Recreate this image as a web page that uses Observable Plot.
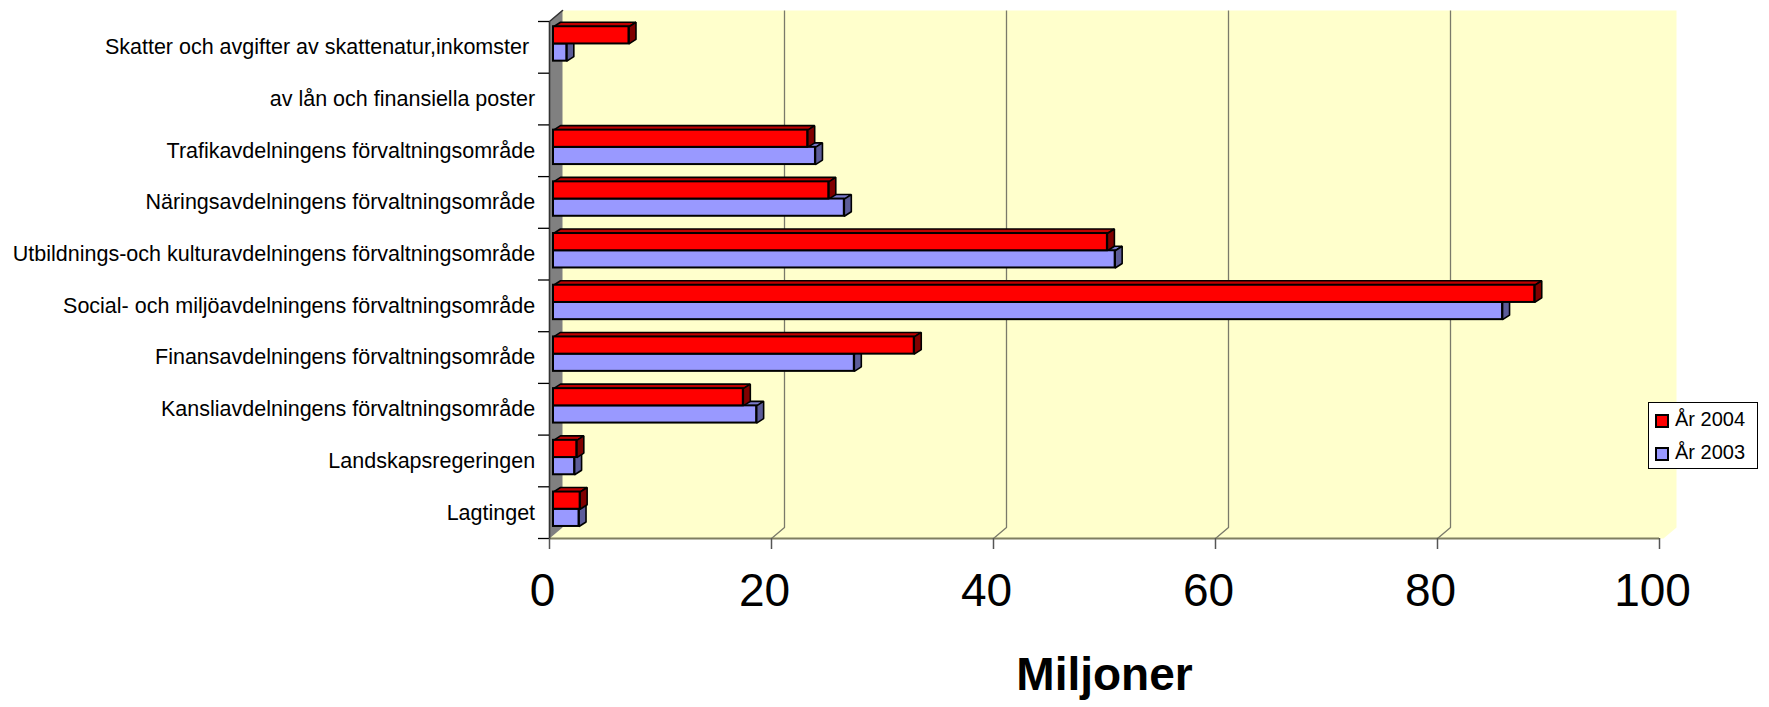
<!DOCTYPE html>
<html>
<head>
<meta charset="utf-8">
<script src="https://cdn.jsdelivr.net/npm/d3@7"></script>
<script src="https://cdn.jsdelivr.net/npm/@observablehq/plot@0.6"></script>
<style>
  html, body { margin: 0; padding: 0; background: #fff; }
  #wrap { position: relative; width: 1769px; height: 707px; font-family: "Liberation Sans", Arial, sans-serif; }
  .cat text { white-space: pre; }
  #legend { position: absolute; left: 1648px; top: 402px; width: 110px; height: 67px; border: 1px solid #000; background: #fff; box-sizing: border-box; }
  #legend .item { position: absolute; left: 6px; height: 20px; font-size: 20px; line-height: 20px; color: #000; white-space: nowrap; }
  #legend .sw { position: absolute; left: 0; top: 3px; width: 10px; height: 10px; border: 2px solid #000; }
  #legend .lbl { position: absolute; left: 20px; top: -2px; }
</style>
</head>
<body>
<div id="wrap"></div>
<script>
// ---- data ----
const categories = [
  "Skatter och avgifter av skattenatur,inkomster ",
  "av lån och finansiella poster",
  "Trafikavdelningens förvaltningsområde",
  "Näringsavdelningens förvaltningsområde",
  "Utbildnings-och kulturavdelningens förvaltningsområde",
  "Social- och miljöavdelningens förvaltningsområde",
  "Finansavdelningens förvaltningsområde",
  "Kansliavdelningens förvaltningsområde",
  "Landskapsregeringen",
  "Lagtinget"
];
const values2004 = [6.8, null, 22.9, 24.8, 49.9, 88.4, 32.5, 17.1, 2.1, 2.4];
const values2003 = [1.2, null, 23.6, 26.2, 50.6, 85.5, 27.1, 18.3, 1.9, 2.3];
const seriesNames = ["År 2004", "År 2003"];
const xTicks = [0, 20, 40, 60, 80, 100];
const axisTitle = "Miljoner";

// ---- layout ----
const W = 1769, H = 707;
const X0 = 549, X1 = 1659, Y0 = 21, Y1 = 538;
const XPX = (X1 - X0) / 100, YPX = (Y1 - Y0) / categories.length;
const wx = 13 / XPX, wy = 11 / YPX;      // wall depth in data units
const wr = 17 / XPX;                     // back wall right edge offset
const bx = 7 / XPX, by = 4.5 / YPX;      // bar depth in data units
const colors = {
  "År 2004": {front: "#ff0000", top: "#c00000", side: "#800000"},
  "År 2003": {front: "#9999ff", top: "#7a7acc", side: "#5c5c99"}
};
const slots = {"År 2004": [0.167, 0.5], "År 2003": [0.5, 0.833]};

// bar table
const bars = [];
categories.forEach((c, i) => {
  [["År 2003", values2003[i]], ["År 2004", values2004[i]]].forEach(([s, v]) => {
    if (v == null) return;
    bars.push({cat: c, i, series: s, value: v, y1: i + slots[s][0], y2: i + slots[s][1]});
  });
});

// side faces as polygons built from the bars
function facePolys(kind, series) {
  const pts = [];
  bars.filter(b => b.series === series).forEach((b, k) => {
    const id = series + k;
    let poly;
    if (kind === "top") {
      poly = [[0, b.y1], [b.value, b.y1], [b.value + bx, b.y1 - by], [bx, b.y1 - by], [0, b.y1]];
    } else {
      poly = [[b.value, b.y1], [b.value + bx, b.y1 - by], [b.value + bx, b.y2 - by], [b.value, b.y2], [b.value, b.y1]];
    }
    poly.forEach(([x, y]) => pts.push({id, x, y}));
  });
  return pts;
}

const N = categories.length;
const backWall = [[0, 0], [wx, -wy], [100 + wr, -wy], [100 + wr, N - wy], [100 + wr - wx, N], [0, N], [0, 0]].map(([x, y]) => ({x, y}));
const sideWall = [[0, 0], [wx, -wy], [wx, N - wy], [0, N], [0, 0]].map(([x, y]) => ({x, y}));
const wallEdge = [[0, N], [0, 0], [wx, -wy]].map(([x, y]) => ({x, y}));
const grid = [];
xTicks.filter(t => t > 0 && t < 100).forEach(t => {
  [[t, N], [t + wx, N - wy], [t + wx, -wy]].forEach(([x, y]) => grid.push({id: t, x, y}));
});

const barDx = 4, barDy = -3.4;
const sideMarks = [];
["År 2003", "År 2004"].forEach(s => {
  sideMarks.push(Plot.line(facePolys("top", s), {x: "x", y: "y", z: "id", fill: colors[s].top, stroke: "#000", strokeWidth: 1.6, strokeLinejoin: "miter", dx: barDx, dy: barDy}));
  sideMarks.push(Plot.line(facePolys("side", s), {x: "x", y: "y", z: "id", fill: colors[s].side, stroke: "#000", strokeWidth: 1.6, strokeLinejoin: "miter", dx: barDx, dy: barDy}));
});

const chart = Plot.plot({
  width: W,
  height: H,
  marginLeft: X0, marginRight: W - X1, marginTop: Y0, marginBottom: H - Y1,
  x: {domain: [0, 100], range: [X0, X1], axis: null},
  y: {domain: [0, N], range: [Y0, Y1], axis: null},
  style: {fontFamily: "'Liberation Sans', Arial, sans-serif", background: "#fff", overflow: "visible", color: "#000"},
  marks: [
    Plot.line(backWall, {x: "x", y: "y", fill: "#ffffcc", stroke: "none"}),
    Plot.line(sideWall, {x: "x", y: "y", fill: "#808080", stroke: "none"}),
    Plot.line(grid, {x: "x", y: "y", z: "id", stroke: "#7a7a6a", strokeWidth: 1.3, strokeLinecap: "butt"}),
    Plot.ruleY([N], {x1: 0, x2: 100, stroke: "#7f7f60", strokeWidth: 2.2}),
    Plot.line(wallEdge, {x: "x", y: "y", stroke: "#333", strokeWidth: 1.6, strokeLinejoin: "miter"}),
    Plot.ruleY(d3.range(N + 1), {y: d => d, x1: -11 / XPX, x2: 0, stroke: "#000", strokeWidth: 1.3}),
    Plot.ruleX(xTicks, {x: d => d, y1: N, y2: N + 11 / YPX, stroke: "#555", strokeWidth: 1.5}),
    ...sideMarks,
    Plot.rect(bars, {x1: 0, x2: "value", y1: "y1", y2: "y2", fill: d => colors[d.series].front, stroke: "#000", strokeWidth: 2, dx: barDx, dy: barDy}),
    Plot.text(categories, {x: 0, y: (d, i) => i + 0.5, text: d => d, textAnchor: "end", dx: -14.4, fontSize: 21.5, fill: "#000", className: "cat"}),
    Plot.text(xTicks, {x: d => d, y: N, text: d => String(d), dx: -7, dy: 67, lineAnchor: "bottom", fontSize: 46, fill: "#000"}),
    Plot.text([axisTitle], {x: 50, y: N, text: d => d, dy: 151, lineAnchor: "bottom", fontSize: 46, fontWeight: "bold", fill: "#000"})
  ]
});

const wrap = document.getElementById("wrap");
wrap.appendChild(chart);

// legend
const legend = document.createElement("div");
legend.id = "legend";
seriesNames.forEach((s, k) => {
  const item = document.createElement("div");
  item.className = "item";
  item.style.top = (8 + k * 33) + "px";
  const sw = document.createElement("span");
  sw.className = "sw";
  sw.style.background = colors[s].front;
  const lbl = document.createElement("span");
  lbl.className = "lbl";
  lbl.textContent = s;
  item.appendChild(sw);
  item.appendChild(lbl);
  legend.appendChild(item);
});
wrap.appendChild(legend);
</script>
</body>
</html>
